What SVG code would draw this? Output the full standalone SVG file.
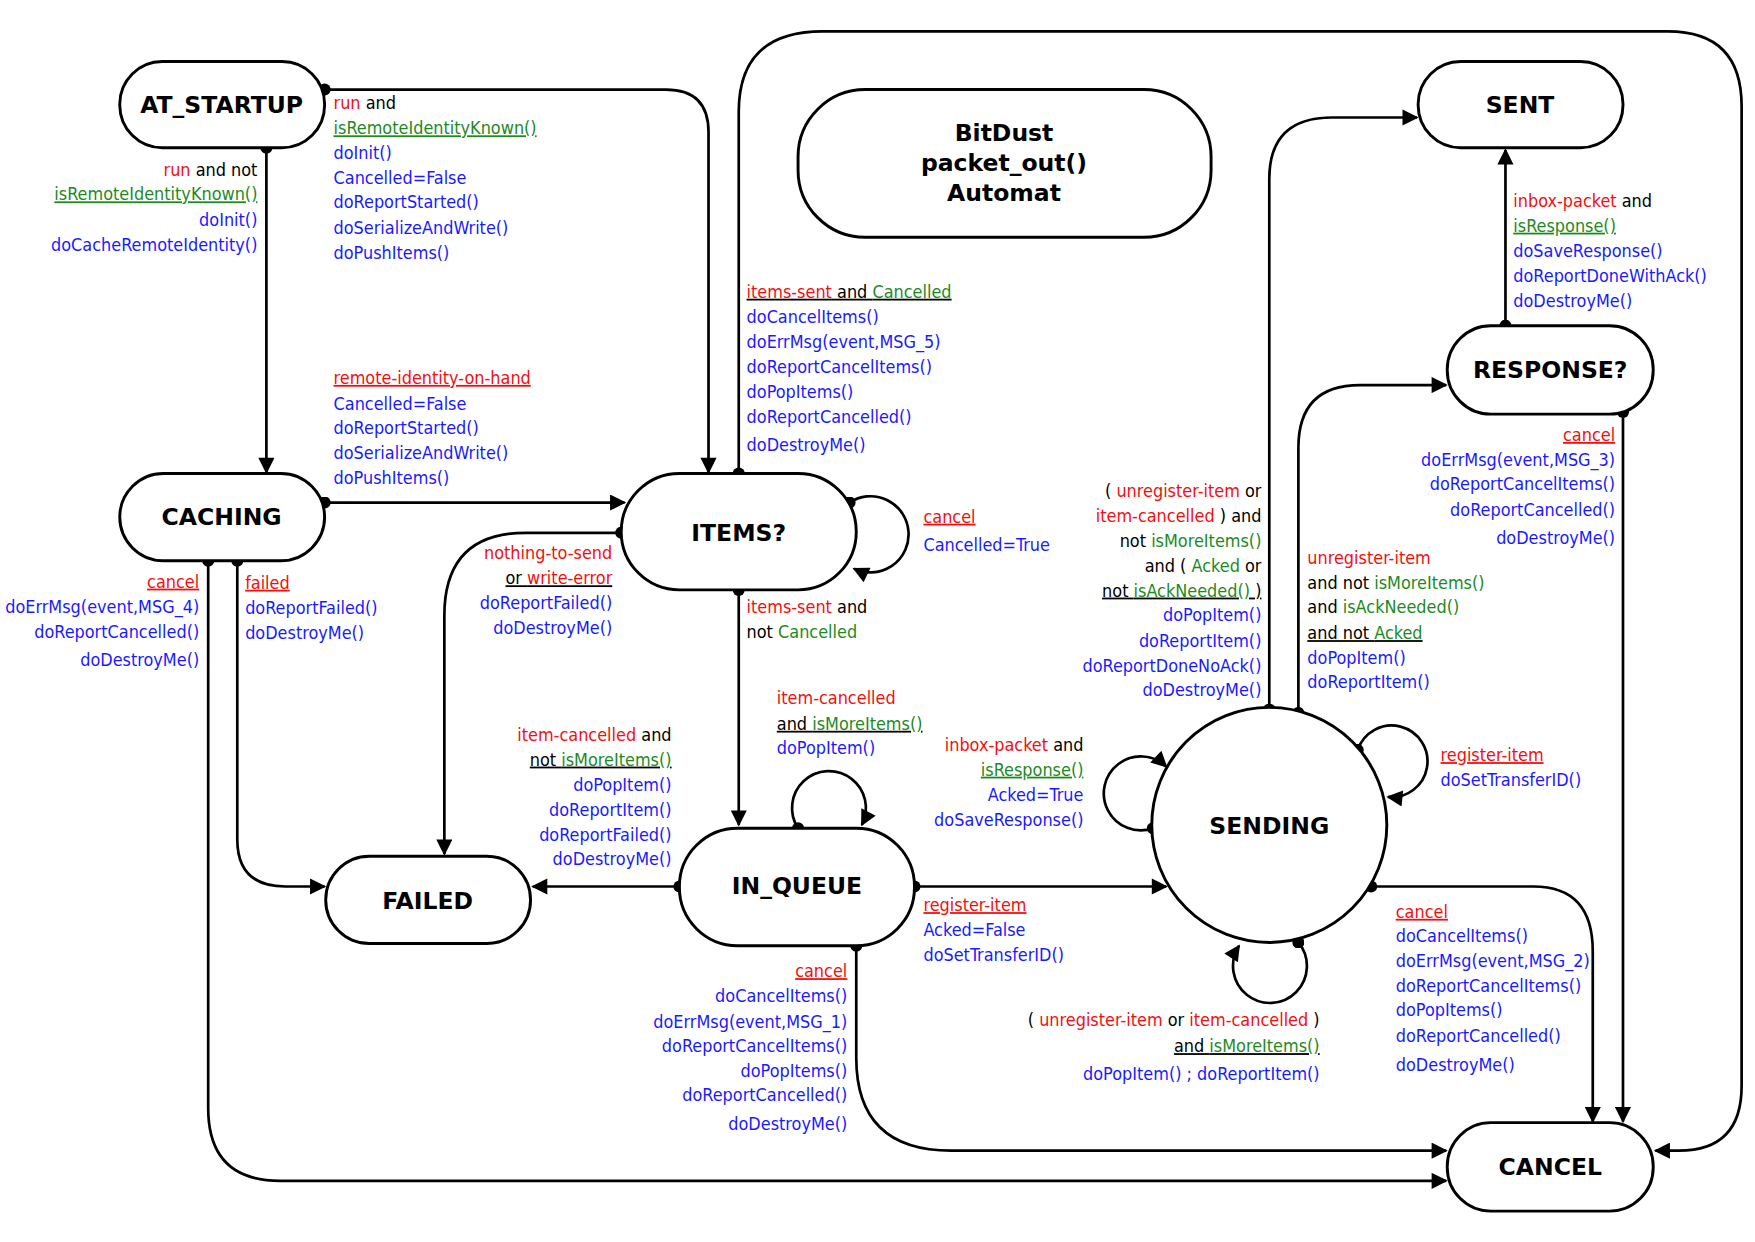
<svg xmlns="http://www.w3.org/2000/svg" width="1755" height="1242" viewBox="0 0 1755 1242">
<style>
.n{fill:#fff;stroke:#000;stroke-width:2.6}
.t{font-family:"DejaVu Sans",sans-serif;font-weight:bold;font-size:21px;text-anchor:middle;fill:#000}
.c{fill:none;stroke:#000;stroke-width:2.4}
.l{font-family:"Liberation Sans Narrow","DejaVu Sans Condensed","Liberation Sans",sans-serif;font-size:16px;fill:#000}
.r{text-anchor:end}
.R{fill:#f01010}.G{fill:#1e8a1e}.B{fill:#1a1aff}.u{text-decoration:underline}
</style>
<defs>
<marker id="a" viewBox="0 0 10 10" refX="9" refY="5" markerWidth="7" markerHeight="6" markerUnits="strokeWidth" orient="auto"><path d="M0,0L10,5L0,10z" fill="#000"/></marker>
<marker id="d" viewBox="0 0 10 10" refX="5" refY="5" markerWidth="4.5" markerHeight="4.5" markerUnits="strokeWidth"><circle cx="5" cy="5" r="5" fill="#000"/></marker>
</defs>
<rect width="1755" height="1242" fill="#fff"/>
<g transform="scale(1.1193)">
<g id="connectors">
<path class="c" marker-start="url(#d)" marker-end="url(#a)" d="M290,80H595Q633,80 633,118V422"/>
<path class="c" marker-start="url(#d)" marker-end="url(#a)" d="M238,132V422"/>
<path class="c" marker-start="url(#d)" marker-end="url(#a)" d="M290,449H558"/>
<path class="c" marker-start="url(#d)" marker-end="url(#a)" d="M660,423V100Q660,28 735,28H1490Q1556,28 1556,95V970Q1556,1028 1500,1028H1479"/>
<path class="c" marker-start="url(#d)" marker-end="url(#a)" d="M759,449A34,34 0 1 1 763,508"/>
<path class="c" marker-start="url(#d)" marker-end="url(#a)" d="M555,476H470Q397,476 397,550V763"/>
<path class="c" marker-start="url(#d)" marker-end="url(#a)" d="M660,527V737"/>
<path class="c" marker-start="url(#d)" marker-end="url(#a)" d="M186,501V990Q186,1055 250,1055H1292"/>
<path class="c" marker-start="url(#d)" marker-end="url(#a)" d="M212,501V750Q212,792 255,792H290"/>
<path class="c" marker-start="url(#d)" marker-end="url(#a)" d="M607,792H476"/>
<path class="c" marker-start="url(#d)" marker-end="url(#a)" d="M713,740A33,33 0 1 1 770,737"/>
<path class="c" marker-start="url(#d)" marker-end="url(#a)" d="M817,792H1042"/>
<path class="c" marker-start="url(#d)" marker-end="url(#a)" d="M765,845V945Q765,1028 850,1028H1292"/>
<path class="c" marker-start="url(#d)" marker-end="url(#a)" d="M1134,634V160Q1134,105 1190,105H1266"/>
<path class="c" marker-start="url(#d)" marker-end="url(#a)" d="M1160,637V400Q1160,344 1215,344H1292"/>
<path class="c" marker-start="url(#d)" marker-end="url(#a)" d="M1345,291V134"/>
<path class="c" marker-start="url(#d)" marker-end="url(#a)" d="M1450,368V1002"/>
<path class="c" marker-start="url(#d)" marker-end="url(#a)" d="M1225,792H1370Q1423,792 1423,850V1002"/>
<path class="c" marker-start="url(#d)" marker-end="url(#a)" d="M1213,670A32,32 0 1 1 1240,712"/>
<path class="c" marker-start="url(#d)" marker-end="url(#a)" d="M1030,740A33,33 0 1 1 1042,685"/>
<path class="c" marker-start="url(#d)" marker-end="url(#a)" d="M1160,842A33,33 0 1 1 1107,845"/>
</g>
<g id="AT_STARTUP"><rect class="n" x="107" y="55" width="183" height="77" rx="38"/><text class="t" x="198" y="101">AT_STARTUP</text></g>
<g id="title"><rect class="n" x="713" y="80" width="369" height="132" rx="60"/><text class="t" x="897" y="126">BitDust</text><text class="t" x="897" y="153">packet_out()</text><text class="t" x="897" y="180">Automat</text></g>
<g id="SENT"><rect class="n" x="1267" y="55" width="183" height="77" rx="38"/><text class="t" x="1358" y="101">SENT</text></g>
<g id="RESPONSE"><rect class="n" x="1293" y="291" width="184" height="79" rx="39"/><text class="t" x="1385" y="338">RESPONSE?</text></g>
<g id="CACHING"><rect class="n" x="107" y="423" width="183" height="78" rx="39"/><text class="t" x="198" y="469">CACHING</text></g>
<g id="ITEMS"><rect class="n" x="555" y="423" width="210" height="104" rx="52"/><text class="t" x="660" y="483">ITEMS?</text></g>
<g id="SENDING"><circle class="n" cx="1134" cy="737" r="105"/><text class="t" x="1134" y="745">SENDING</text></g>
<g id="IN_QUEUE"><rect class="n" x="607" y="740" width="210" height="105" rx="52"/><text class="t" x="712" y="799">IN_QUEUE</text></g>
<g id="FAILED"><rect class="n" x="291" y="765" width="183" height="78" rx="39"/><text class="t" x="382" y="812">FAILED</text></g>
<g id="CANCEL"><rect class="n" x="1293" y="1003" width="184" height="79" rx="39"/><text class="t" x="1385" y="1050">CANCEL</text></g>
<g id="labels" class="l">
<text x="298" y="97"><tspan class="R">run</tspan> and</text>
<text x="298" y="120" class="G u">isRemoteIdentityKnown()</text>
<text class="B"><tspan x="298" y="142">doInit()</tspan><tspan x="298" y="164">Cancelled=False</tspan><tspan x="298" y="186">doReportStarted()</tspan><tspan x="298" y="209">doSerializeAndWrite()</tspan><tspan x="298" y="231">doPushItems()</tspan></text>

<text x="230" y="157" class="r"><tspan class="R">run</tspan> and not</text>
<text x="230" y="179" class="r G u">isRemoteIdentityKnown()</text>
<text class="r B"><tspan x="230" y="202">doInit()</tspan><tspan x="230" y="224">doCacheRemoteIdentity()</tspan></text>

<text x="298" y="343" class="R u">remote-identity-on-hand</text>
<text class="B"><tspan x="298" y="366">Cancelled=False</tspan><tspan x="298" y="388">doReportStarted()</tspan><tspan x="298" y="410">doSerializeAndWrite()</tspan><tspan x="298" y="432">doPushItems()</tspan></text>

<text x="667" y="266" class="u"><tspan class="R">items-sent</tspan> and <tspan class="G">Cancelled</tspan></text>
<text class="B"><tspan x="667" y="289">doCancelItems()</tspan><tspan x="667" y="311">doErrMsg(event,MSG_5)</tspan><tspan x="667" y="333">doReportCancelItems()</tspan><tspan x="667" y="356">doPopItems()</tspan><tspan x="667" y="378">doReportCancelled()</tspan><tspan x="667" y="403">doDestroyMe()</tspan></text>

<text x="825" y="467" class="R u">cancel</text>
<text x="825" y="492" class="B">Cancelled=True</text>

<text x="547" y="499" class="r R">nothing-to-send</text>
<text x="547" y="522" class="r u">or <tspan class="R">write-error</tspan></text>
<text class="r B"><tspan x="547" y="544">doReportFailed()</tspan><tspan x="547" y="566">doDestroyMe()</tspan></text>

<text x="667" y="548"><tspan class="R">items-sent</tspan> and</text>
<text x="667" y="570">not <tspan class="G">Cancelled</tspan></text>

<text x="178" y="525" class="r R u">cancel</text>
<text class="r B"><tspan x="178" y="548">doErrMsg(event,MSG_4)</tspan><tspan x="178" y="570">doReportCancelled()</tspan><tspan x="178" y="595">doDestroyMe()</tspan></text>
<text x="219" y="526" class="R u">failed</text>
<text class="B"><tspan x="219" y="549">doReportFailed()</tspan><tspan x="219" y="571">doDestroyMe()</tspan></text>

<text x="694" y="629" class="R">item-cancelled</text>
<text x="694" y="652" class="u">and <tspan class="G">isMoreItems()</tspan></text>
<text x="694" y="674" class="B">doPopItem()</text>

<text x="600" y="662" class="r"><tspan class="R">item-cancelled</tspan> and</text>
<text x="600" y="684" class="r u">not <tspan class="G">isMoreItems()</tspan></text>
<text class="r B"><tspan x="600" y="707">doPopItem()</tspan><tspan x="600" y="729">doReportItem()</tspan><tspan x="600" y="751">doReportFailed()</tspan><tspan x="600" y="773">doDestroyMe()</tspan></text>

<text x="968" y="671" class="r"><tspan class="R">inbox-packet</tspan> and</text>
<text x="968" y="693" class="r G u">isResponse()</text>
<text class="r B"><tspan x="968" y="716">Acked=True</tspan><tspan x="968" y="738">doSaveResponse()</tspan></text>

<text x="825" y="814" class="R u">register-item</text>
<text class="B"><tspan x="825" y="836">Acked=False</tspan><tspan x="825" y="859">doSetTransferID()</tspan></text>

<text x="757" y="873" class="r R u">cancel</text>
<text class="r B"><tspan x="757" y="895">doCancelItems()</tspan><tspan x="757" y="918">doErrMsg(event,MSG_1)</tspan><tspan x="757" y="940">doReportCancelItems()</tspan><tspan x="757" y="962">doPopItems()</tspan><tspan x="757" y="984">doReportCancelled()</tspan><tspan x="757" y="1010">doDestroyMe()</tspan></text>

<text x="1127" y="444" class="r">( <tspan class="R">unregister-item</tspan> or</text>
<text x="1127" y="466" class="r"><tspan class="R">item-cancelled</tspan> ) and</text>
<text x="1127" y="489" class="r">not <tspan class="G">isMoreItems()</tspan></text>
<text x="1127" y="511" class="r">and ( <tspan class="G">Acked</tspan> or</text>
<text x="1127" y="533" class="r u">not <tspan class="G">isAckNeeded()</tspan> )</text>
<text class="r B"><tspan x="1127" y="555">doPopItem()</tspan><tspan x="1127" y="578">doReportItem()</tspan><tspan x="1127" y="600">doReportDoneNoAck()</tspan><tspan x="1127" y="622">doDestroyMe()</tspan></text>

<text x="1168" y="504" class="R">unregister-item</text>
<text x="1168" y="526">and not <tspan class="G">isMoreItems()</tspan></text>
<text x="1168" y="548">and <tspan class="G">isAckNeeded()</tspan></text>
<text x="1168" y="571" class="u">and not <tspan class="G">Acked</tspan></text>
<text class="B"><tspan x="1168" y="593">doPopItem()</tspan><tspan x="1168" y="615">doReportItem()</tspan></text>

<text x="1352" y="185"><tspan class="R">inbox-packet</tspan> and</text>
<text x="1352" y="207" class="G u">isResponse()</text>
<text class="B"><tspan x="1352" y="230">doSaveResponse()</tspan><tspan x="1352" y="252">doReportDoneWithAck()</tspan><tspan x="1352" y="274">doDestroyMe()</tspan></text>

<text x="1443" y="394" class="r R u">cancel</text>
<text class="r B"><tspan x="1443" y="416">doErrMsg(event,MSG_3)</tspan><tspan x="1443" y="438">doReportCancelItems()</tspan><tspan x="1443" y="461">doReportCancelled()</tspan><tspan x="1443" y="486">doDestroyMe()</tspan></text>

<text x="1287" y="680" class="R u">register-item</text>
<text x="1287" y="702" class="B">doSetTransferID()</text>

<text x="1179" y="917" class="r">( <tspan class="R">unregister-item</tspan> or <tspan class="R">item-cancelled</tspan> )</text>
<text x="1179" y="940" class="r u">and <tspan class="G">isMoreItems()</tspan></text>
<text x="1179" y="965" class="r B">doPopItem() ; doReportItem()</text>

<text x="1247" y="820" class="R u">cancel</text>
<text class="B"><tspan x="1247" y="842">doCancelItems()</tspan><tspan x="1247" y="864">doErrMsg(event,MSG_2)</tspan><tspan x="1247" y="886">doReportCancelItems()</tspan><tspan x="1247" y="908">doPopItems()</tspan><tspan x="1247" y="931">doReportCancelled()</tspan><tspan x="1247" y="957">doDestroyMe()</tspan></text>
</g>
</g>
</svg>
